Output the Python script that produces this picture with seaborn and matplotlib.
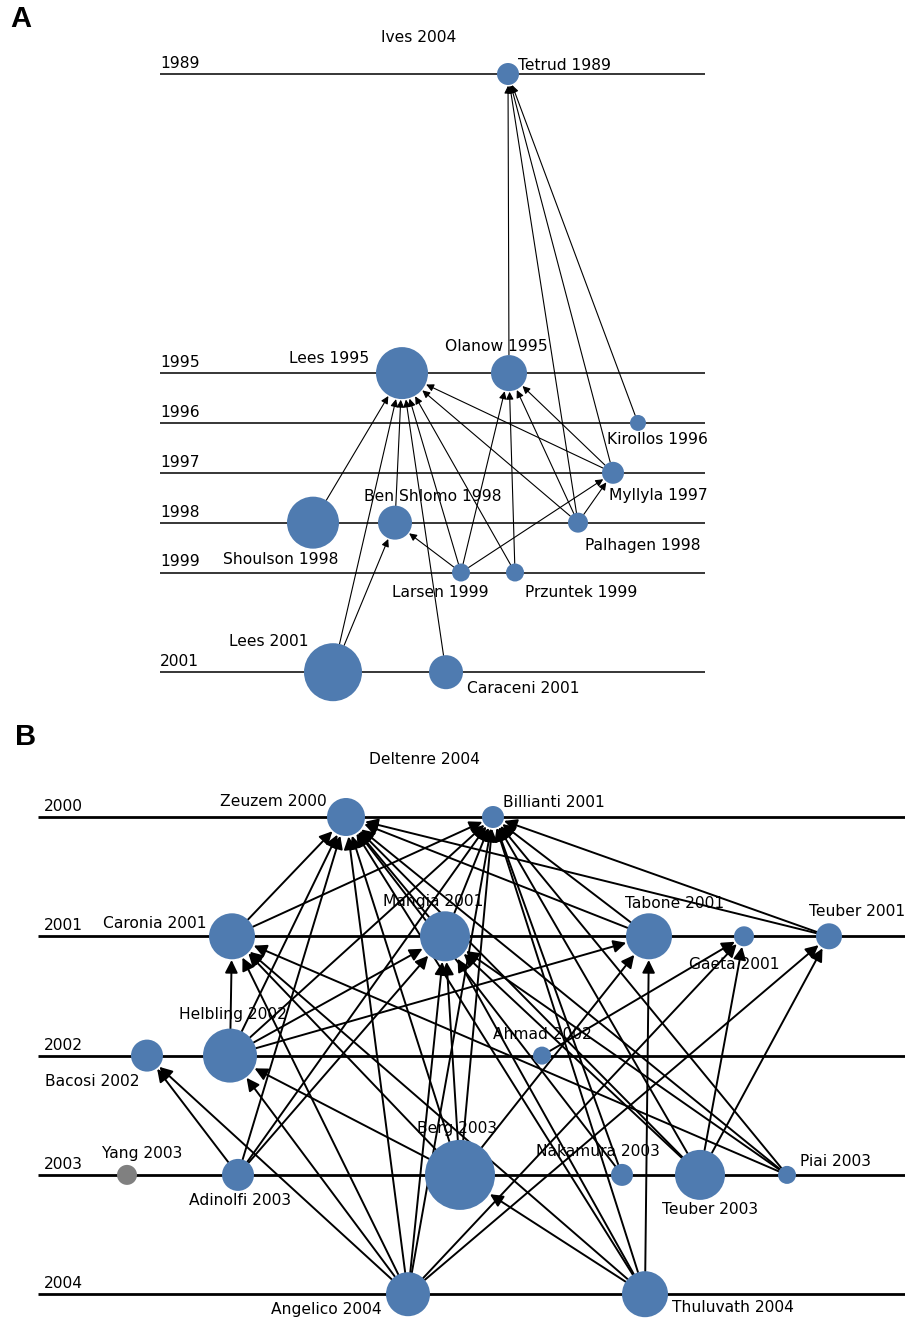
import matplotlib
matplotlib.use("Agg")
import matplotlib.pyplot as plt
import seaborn as sns
import pandas as pd

# ---------------- data: panel A (Ives 2004) ----------------
A_title = "Ives 2004"
A_years_axis = [1989, 1995, 1996, 1997, 1998, 1999, 2001]
A_names = ["Tetrud 1989", "Lees 1995", "Olanow 1995", "Kirollos 1996", "Myllyla 1997",
           "Shoulson 1998", "Ben Shlomo 1998", "Palhagen 1998", "Larsen 1999",
           "Przuntek 1999", "Lees 2001", "Caraceni 2001"]
A_year = [1989, 1995, 1995, 1996, 1997, 1998, 1998, 1998, 1999, 1999, 2001, 2001]
A_xpos = [508, 402, 509, 638, 613, 313, 395, 578, 461, 515, 333, 446]
A_size = [11, 26, 18, 8, 11, 26, 17, 10, 9, 9, 29, 17]
A_edges = [
    ("Olanow 1995", "Tetrud 1989"), ("Palhagen 1998", "Tetrud 1989"),
    ("Myllyla 1997", "Tetrud 1989"), ("Kirollos 1996", "Tetrud 1989"),
    ("Shoulson 1998", "Lees 1995"), ("Lees 2001", "Lees 1995"),
    ("Ben Shlomo 1998", "Lees 1995"), ("Caraceni 2001", "Lees 1995"),
    ("Larsen 1999", "Lees 1995"), ("Przuntek 1999", "Lees 1995"),
    ("Palhagen 1998", "Lees 1995"), ("Myllyla 1997", "Lees 1995"),
    ("Larsen 1999", "Olanow 1995"), ("Przuntek 1999", "Olanow 1995"),
    ("Palhagen 1998", "Olanow 1995"), ("Myllyla 1997", "Olanow 1995"),
    ("Larsen 1999", "Ben Shlomo 1998"), ("Lees 2001", "Ben Shlomo 1998"),
    ("Larsen 1999", "Myllyla 1997"), ("Palhagen 1998", "Myllyla 1997"),
]

# ---------------- data: panel B (Deltenre 2004) ----------------
B_title = "Deltenre 2004"
B_years_axis = [2000, 2001, 2002, 2003, 2004]
B_names = ["Zeuzem 2000", "Billianti 2001", "Caronia 2001", "Mangia 2001", "Tabone 2001",
           "Gaeta 2001", "Teuber 2001", "Bacosi 2002", "Helbling 2002", "Ahmad 2002",
           "Yang 2003", "Adinolfi 2003", "Berg 2003", "Nakamura 2003", "Teuber 2003",
           "Piai 2003", "Angelico 2004", "Thuluvath 2004"]
B_year = [2000, 2000, 2001, 2001, 2001, 2001, 2001, 2002, 2002, 2002,
          2003, 2003, 2003, 2003, 2003, 2003, 2004, 2004]
B_xpos = [346, 493, 232, 445, 649, 744, 829, 147, 230, 542,
          127, 238, 460, 622, 700, 787, 408, 645]
B_size = [19, 11, 23, 25, 23, 10, 13, 16, 27, 9, 10, 16, 35, 11, 25, 9, 22, 23]
B_group = ["linked"] * 10 + ["isolated"] + ["linked"] * 7
B_edges = [
    ("Caronia 2001", "Zeuzem 2000"), ("Mangia 2001", "Zeuzem 2000"),
    ("Tabone 2001", "Zeuzem 2000"), ("Teuber 2001", "Zeuzem 2000"),
    ("Helbling 2002", "Zeuzem 2000"), ("Adinolfi 2003", "Zeuzem 2000"),
    ("Berg 2003", "Zeuzem 2000"), ("Nakamura 2003", "Zeuzem 2000"),
    ("Teuber 2003", "Zeuzem 2000"), ("Piai 2003", "Zeuzem 2000"),
    ("Angelico 2004", "Zeuzem 2000"), ("Thuluvath 2004", "Zeuzem 2000"),
    ("Caronia 2001", "Billianti 2001"), ("Mangia 2001", "Billianti 2001"),
    ("Tabone 2001", "Billianti 2001"), ("Teuber 2001", "Billianti 2001"),
    ("Helbling 2002", "Billianti 2001"), ("Adinolfi 2003", "Billianti 2001"),
    ("Berg 2003", "Billianti 2001"), ("Nakamura 2003", "Billianti 2001"),
    ("Teuber 2003", "Billianti 2001"), ("Piai 2003", "Billianti 2001"),
    ("Angelico 2004", "Billianti 2001"), ("Thuluvath 2004", "Billianti 2001"),
    ("Helbling 2002", "Caronia 2001"), ("Berg 2003", "Caronia 2001"),
    ("Thuluvath 2004", "Caronia 2001"), ("Piai 2003", "Caronia 2001"),
    ("Angelico 2004", "Caronia 2001"),
    ("Helbling 2002", "Mangia 2001"), ("Adinolfi 2003", "Mangia 2001"),
    ("Berg 2003", "Mangia 2001"), ("Angelico 2004", "Mangia 2001"),
    ("Thuluvath 2004", "Mangia 2001"), ("Piai 2003", "Mangia 2001"),
    ("Teuber 2003", "Mangia 2001"),
    ("Helbling 2002", "Tabone 2001"), ("Berg 2003", "Tabone 2001"),
    ("Thuluvath 2004", "Tabone 2001"),
    ("Ahmad 2002", "Gaeta 2001"), ("Angelico 2004", "Gaeta 2001"),
    ("Teuber 2003", "Gaeta 2001"),
    ("Angelico 2004", "Teuber 2001"), ("Teuber 2003", "Teuber 2001"),
    ("Adinolfi 2003", "Bacosi 2002"), ("Angelico 2004", "Bacosi 2002"),
    ("Berg 2003", "Helbling 2002"), ("Angelico 2004", "Helbling 2002"),
    ("Thuluvath 2004", "Berg 2003"),
]

# ---------------- layout (pixels) ----------------
W, H = 905, 1321
A_top, A_bot = 0, 710          # pixel band of panel A
A_y0, A_step = 74, 49.85        # pixel of 1989 line, pixels per year
B_top, B_bot = 710, 1321
B_y0, B_step = 817, 119.3       # pixel of 2000 line, pixels per year

A_label_off = {  # (dx, dy) pixel offset of label centre from node centre (dy down)
    "Tetrud 1989": (56, -8), "Lees 1995": (-73, -15), "Olanow 1995": (-13, -27),
    "Kirollos 1996": (19, 17), "Myllyla 1997": (45, 23), "Shoulson 1998": (-32, 37),
    "Ben Shlomo 1998": (38, -26), "Palhagen 1998": (65, 23), "Larsen 1999": (-21, 20),
    "Przuntek 1999": (66, 20), "Lees 2001": (-64, -31), "Caraceni 2001": (77, 16)}
B_label_off = {
    "Zeuzem 2000": (-73, -16), "Billianti 2001": (61, -15), "Caronia 2001": (-77, -13),
    "Mangia 2001": (-12, -35), "Tabone 2001": (26, -33), "Gaeta 2001": (-10, 28),
    "Teuber 2001": (28, -25), "Bacosi 2002": (-55, 26), "Helbling 2002": (3, -41),
    "Ahmad 2002": (0, -21), "Yang 2003": (15, -21), "Adinolfi 2003": (2, 26),
    "Berg 2003": (-3, -46), "Nakamura 2003": (-24, -23), "Teuber 2003": (10, 35),
    "Piai 2003": (48, -13), "Angelico 2004": (-82, 15), "Thuluvath 2004": (88, 13)}

BLUE = "#4f7bb0"
GREY = "#808080"
TXT = "#000000"
PX2PT = 0.72

sns.set_theme(style="white")
plt.rcParams["font.family"] = ["DejaVu Sans"]
FS = 11.2

fig = plt.figure(figsize=(W / 100, H / 100), dpi=100)
fig.patch.set_facecolor("white")


def make_axes(top, bot, y0_pix, step, year0):
    ax = fig.add_axes([0, 1 - bot / H, 1, (bot - top) / H])
    ax.set_xlim(0, W)
    ax.set_ylim(year0 + (bot - y0_pix) / step, year0 - (y0_pix - top) / step)
    ax.set_axis_off()
    return ax


def draw_panel(ax, names, years, xs, radii, groups, edges, axis_years, line_x,
               label_x, title, title_x, title_year, label_off, lw_line, lw_edge, ms):
    pos = {n: (x, y) for n, x, y in zip(names, xs, years)}
    rad = {n: r for n, r in zip(names, radii)}
    ax.hlines(axis_years, line_x[0], line_x[1], color="black", lw=lw_line, zorder=0)
    for yr in axis_years:
        ax.annotate(str(yr), (label_x, yr), xytext=(0, 3), textcoords="offset pixels",
                    ha="left", va="bottom", fontsize=FS, color=TXT)
    for s, t in edges:
        ax.annotate("", xy=pos[t], xytext=pos[s], zorder=1,
                    arrowprops=dict(arrowstyle="-|>", color="black", lw=lw_edge,
                                    shrinkA=rad[s] * PX2PT, shrinkB=rad[t] * PX2PT + 0.5,
                                    mutation_scale=ms))
    df = pd.DataFrame({"x": xs, "year": years,
                       "s": [(2 * r * PX2PT) ** 2 for r in radii], "g": groups})
    smin, smax = df["s"].min(), df["s"].max()
    sns.scatterplot(data=df, x="x", y="year", hue="g", size="s",
                    palette={"linked": BLUE, "isolated": GREY},
                    sizes=(smin, smax), size_norm=(smin, smax), legend=False,
                    linewidth=0, ax=ax, zorder=3)
    for n in names:
        dx, dy = label_off[n]
        ax.annotate(n, pos[n], xytext=(dx, -dy), textcoords="offset pixels",
                    ha="center", va="center", fontsize=FS, color=TXT, zorder=4)
    ax.text(title_x, title_year, title, ha="center", va="center", fontsize=FS, color=TXT)
    ax.set_xlim(0, W)


axA = make_axes(A_top, A_bot, A_y0, A_step, 1989)
draw_panel(axA, A_names, A_year, A_xpos, A_size, ["linked"] * len(A_names), A_edges,
           A_years_axis, (160, 705), 160, A_title, 419, 1989 - 37 / A_step,
           A_label_off, 1.1, 0.8, 11)
axA.set_ylim(1989 + (A_bot - A_y0) / A_step, 1989 - (A_y0 - A_top) / A_step)

axB = make_axes(B_top, B_bot, B_y0, B_step, 2000)
draw_panel(axB, B_names, B_year, B_xpos, B_size, B_group, B_edges,
           B_years_axis, (38, 905), 44, B_title, 424, 2000 - 58 / B_step,
           B_label_off, 2.0, 1.4, 19)
axB.set_ylim(2000 + (B_bot - B_y0) / B_step, 2000 - (B_y0 - B_top) / B_step)

fig.text(10 / W, 1 - 19 / H, "A", fontsize=21, fontweight="bold", color="black",
         family="Liberation Sans", ha="left", va="center")
fig.text(15 / W, 1 - 737 / H, "B", fontsize=21, fontweight="bold", color="black",
         family="Liberation Sans", ha="left", va="center")

fig.savefig("out.png", dpi=100, facecolor="white")
